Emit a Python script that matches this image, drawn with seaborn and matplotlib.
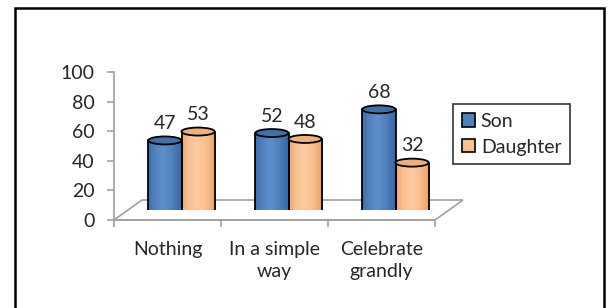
import numpy as np
import pandas as pd
import matplotlib
matplotlib.use('Agg')
import matplotlib.pyplot as plt
from matplotlib.patches import Ellipse, Polygon, Rectangle, Patch
import seaborn as sns

# Data
responses = ['Nothing', 'In a simple\nway', 'Celebrate\ngrandly']
children = ['Son', 'Daughter']
son_pct = [47, 52, 68]
daughter_pct = [53, 48, 32]

colors = {'Son': '#4F81BD', 'Daughter': '#FAC090'}
dark = {'Son': '#3A6AA5', 'Daughter': '#E8A56E'}
light = {'Son': '#5E8FCC', 'Daughter': '#FCCB9F'}
top = {'Son': '#416FAA', 'Daughter': '#EFAF7B'}

df = pd.DataFrame({
    'response': responses * 2,
    'child': ['Son'] * 3 + ['Daughter'] * 3,
    'pct': son_pct + daughter_pct,
})

sns.set_style('white')
plt.rcParams['font.family'] = ['Lato', 'DejaVu Sans']
fs = 14

W, H = 608, 308
fig = plt.figure(figsize=(W / 100, H / 100), dpi=100)

# outer frame
fig.patches.append(Rectangle((15 / W, -0.05), 589 / W, 1 - 8 / H + 0.05,
                             transform=fig.transFigure, fill=False,
                             edgecolor='black', linewidth=1.8))

# front axis (ticks, labels)
x0, x1 = 114, 435
y0, y1 = 220, 72
ax = fig.add_axes([x0 / W, (H - y0) / H, (x1 - x0) / W, (y0 - y1) / H])
# bar axis, shifted half depth back
ddx, ddy = 28, 20
ax2 = fig.add_axes([(x0 + ddx / 2) / W, (H - y0 + ddy / 2) / H,
                    (x1 - x0) / W, (y0 - y1) / H])
ax2.patch.set_alpha(0)

sns.barplot(data=df, x='response', y='pct', hue='child', hue_order=children,
            palette=colors, width=0.62, ax=ax2, legend=False, saturation=1)
ax2.set_xlim(-0.5, 2.5)
ax2.set_ylim(0, 100)
ax2.axis('off')

eh = 5.4  # ellipse height in data units
grad = np.linspace(0, 1, 64)
shade = np.clip(1 - np.abs(grad - 0.45) * 2.0, 0, 1)
for i, p in enumerate(list(ax2.patches)):
    child = children[i // 3]
    bx, bw, bh = p.get_x(), p.get_width(), p.get_height()
    p.set_edgecolor('none')
    p.set_zorder(3)
    cmap = matplotlib.colors.LinearSegmentedColormap.from_list(
        'c', [dark[child], colors[child], light[child]])
    im = ax2.imshow(shade[None, :], cmap=cmap, aspect='auto',
                    extent=(bx, bx + bw, 0, bh), zorder=3.5, vmin=0, vmax=1)
    im.set_clip_path(p)
    # bottom ellipse
    ax2.add_patch(Ellipse((bx + bw / 2, 0), bw, eh, facecolor=dark[child],
                          edgecolor='black', linewidth=1.3, zorder=2))
    # sides
    ax2.plot([bx, bx], [0, bh], color='black', lw=1.3, zorder=4)
    ax2.plot([bx + bw, bx + bw], [0, bh], color='black', lw=1.3, zorder=4)
    # top ellipse
    ax2.add_patch(Ellipse((bx + bw / 2, bh), bw, eh, facecolor=top[child],
                          edgecolor='black', linewidth=1.3, zorder=5))
    ax2.annotate(f'{bh:.0f}', (bx + bw / 2, bh + eh / 2), xytext=(0, 3),
                 textcoords='offset points', ha='center', va='bottom',
                 fontsize=fs, zorder=6)
ax2.set_xlim(-0.5, 2.5)

# floor
gray = '#A0A0A0'
fx, fy = ddx / (x1 - x0), ddy / (y0 - y1)
ax.add_patch(Polygon([(0, 0), (1, 0), (1 + fx, fy), (fx, fy)], closed=True,
                     transform=ax.transAxes, fill=False, edgecolor=gray,
                     linewidth=1.2, clip_on=False, zorder=1))

ax.set_xlim(-0.5, 2.5)
ax.set_ylim(0, 100)
ax.patch.set_alpha(0)
for s in ['top', 'right']:
    ax.spines[s].set_visible(False)
for s in ['left', 'bottom']:
    ax.spines[s].set_color(gray)
    ax.spines[s].set_linewidth(1.2)
ax.set_yticks(np.arange(0, 101, 20))
ax.set_xticks(range(3))
ax.set_xticklabels(responses, fontsize=fs, linespacing=1.4)
ax.set_xticks([-0.5, 0.5, 1.5, 2.5], minor=True)
ax.tick_params(axis='x', which='major', length=0, pad=15)
ax.tick_params(axis='x', which='minor', length=5, color=gray, width=1.2)
ax.tick_params(axis='y', length=5, color=gray, width=1.2, labelsize=fs, pad=9)
ax.tick_params(left=True, bottom=True, which='both')
ax.set_xlabel('')
ax.set_ylabel('')

# legend
handles = [Patch(facecolor=colors[c], edgecolor='black', linewidth=1.2, label=c)
           for c in children]
leg = fig.legend(handles=handles, loc='upper left',
                 bbox_to_anchor=(453 / W, 1 - 104 / H), frameon=True,
                 fancybox=False, edgecolor='black', fontsize=fs,
                 handlelength=0.68, handleheight=0.68, handletextpad=0.3,
                 borderpad=0.45, labelspacing=0.45, borderaxespad=0)
leg.get_frame().set_linewidth(1.2)

fig.savefig('out.png', dpi=100)
